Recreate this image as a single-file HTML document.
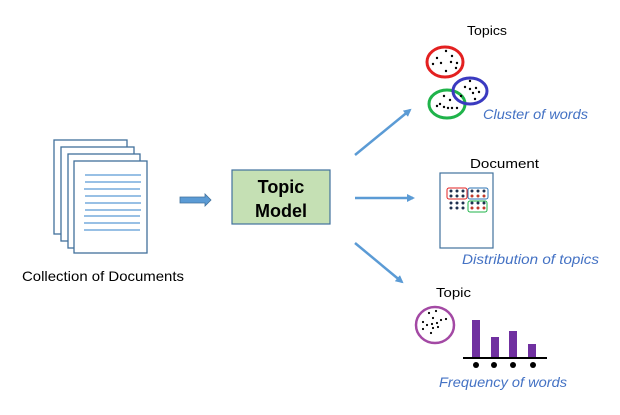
<!DOCTYPE html>
<html><head><style>
body{margin:0;background:#fff;}
svg{display:block;font-family:"Liberation Sans",Arial,sans-serif;}
</style></head><body>
<svg width="620" height="415" viewBox="0 0 620 415">
<defs>
<marker id="ah" markerWidth="8" markerHeight="8" refX="6" refY="4" orient="auto" markerUnits="userSpaceOnUse"><path d="M0,0 L8,4 L0,8 z" fill="#5b9bd5"/></marker>
</defs>
<g fill="#fff" stroke="#41719c" stroke-width="1.3">
<rect x="54" y="140" width="73" height="94"/>
<rect x="61" y="147" width="73" height="94"/>
<rect x="68" y="154" width="72" height="94"/>
<rect x="74" y="161" width="73" height="92"/>
</g>
<g stroke="#5b9bd5" stroke-width="1.2">
<line x1="85" y1="175" x2="141" y2="175"/><line x1="85" y1="182" x2="141" y2="182"/>
<line x1="84" y1="189" x2="140" y2="189"/><line x1="85" y1="196" x2="141" y2="196"/>
<line x1="85" y1="203" x2="141" y2="203"/><line x1="85" y1="210" x2="141" y2="210"/>
<line x1="84" y1="216" x2="140" y2="216"/><line x1="84" y1="223" x2="140" y2="223"/>
<line x1="84" y1="230" x2="140" y2="230"/>
</g>
<text x="22" y="281" font-size="14" textLength="162" lengthAdjust="spacingAndGlyphs" fill="#000">Collection of Documents</text>
<path d="M180,197 L205,197 L205,194 L211,200 L205,206 L205,203 L180,203 z" fill="#5b9bd5" stroke="#41719c" stroke-width="0.8"/>
<rect x="232" y="170" width="98" height="54" fill="#c5e0b4" stroke="#41719c" stroke-width="1.2"/>
<text x="281" y="193" font-size="18" font-weight="bold" text-anchor="middle">Topic</text>
<text x="281" y="217" font-size="18" font-weight="bold" text-anchor="middle">Model</text>
<g stroke="#5b9bd5" stroke-width="2.5" marker-end="url(#ah)">
<line x1="355" y1="155" x2="410" y2="110"/>
<line x1="355" y1="198" x2="413" y2="198"/>
<line x1="355" y1="243" x2="402" y2="282"/>
</g>
<text x="467" y="35" font-size="13" textLength="40" lengthAdjust="spacingAndGlyphs">Topics</text>
<ellipse cx="445" cy="62" rx="18" ry="15" fill="none" stroke="#e32020" stroke-width="3"/>
<ellipse cx="447" cy="104" rx="18" ry="14" fill="none" stroke="#1fb34a" stroke-width="3"/>
<ellipse cx="470" cy="91" rx="17" ry="13" fill="none" stroke="#3a3ac0" stroke-width="3"/>
<g fill="#000">
<circle cx="446" cy="51" r="1.2"/><circle cx="437" cy="58" r="1.2"/><circle cx="452" cy="56" r="1.2"/><circle cx="433" cy="64" r="1.2"/><circle cx="441" cy="63" r="1.2"/><circle cx="451" cy="62" r="1.2"/><circle cx="457" cy="63" r="1.2"/><circle cx="446" cy="71" r="1.2"/><circle cx="456" cy="68" r="1.2"/>
<circle cx="470" cy="81" r="1.2"/><circle cx="465" cy="87" r="1.2"/><circle cx="470" cy="89" r="1.2"/><circle cx="476" cy="88" r="1.2"/><circle cx="473" cy="93" r="1.2"/><circle cx="479" cy="92" r="1.2"/><circle cx="461" cy="96" r="1.2"/><circle cx="475" cy="99" r="1.2"/>
<circle cx="444" cy="96" r="1.2"/><circle cx="450" cy="100" r="1.2"/><circle cx="440" cy="104" r="1.2"/><circle cx="444" cy="107" r="1.2"/><circle cx="448" cy="108" r="1.2"/><circle cx="452" cy="108" r="1.2"/><circle cx="437" cy="106" r="1.2"/><circle cx="457" cy="108" r="1.2"/>
</g>
<text x="483" y="119" font-size="14" font-style="italic" fill="#4472c4" textLength="105" lengthAdjust="spacingAndGlyphs">Cluster of words</text>
<text x="470" y="168" font-size="13" textLength="69" lengthAdjust="spacingAndGlyphs">Document</text>
<rect x="440" y="173" width="53" height="75" fill="#fff" stroke="#41719c" stroke-width="1.2"/>
<rect x="447" y="188" width="20" height="11" rx="2" fill="none" stroke="#e32020" stroke-width="1"/>
<rect x="468" y="188" width="20" height="11" rx="2" fill="none" stroke="#2e75b6" stroke-width="1"/>
<rect x="468" y="201" width="19" height="11" rx="2" fill="none" stroke="#1fb34a" stroke-width="1"/>
<g fill="#1f3050">
<circle cx="451" cy="191" r="1.5"/><circle cx="457" cy="191" r="1.5"/><circle cx="463" cy="191" r="1.5"/>
<circle cx="451" cy="196" r="1.5"/><circle cx="457" cy="196" r="1.5"/><circle cx="463" cy="196" r="1.5"/>
<circle cx="472" cy="191" r="1.5"/><circle cx="478" cy="191" r="1.5"/><circle cx="484" cy="191" r="1.5"/>
<circle cx="451" cy="203" r="1.5"/><circle cx="457" cy="203" r="1.5"/><circle cx="463" cy="203" r="1.5"/>
<circle cx="451" cy="208" r="1.5"/><circle cx="457" cy="208" r="1.5"/><circle cx="463" cy="208" r="1.5"/>
<circle cx="472" cy="203" r="1.5"/><circle cx="478" cy="203" r="1.5"/><circle cx="484" cy="203" r="1.5"/>
</g>
<g fill="#c0392b">
<circle cx="472" cy="196" r="1.5"/><circle cx="478" cy="196" r="1.5"/><circle cx="484" cy="196" r="1.5"/>
<circle cx="472" cy="208" r="1.5"/><circle cx="478" cy="208" r="1.5"/><circle cx="484" cy="208" r="1.5"/>
</g>
<text x="462" y="264" font-size="14" font-style="italic" fill="#4472c4" textLength="137" lengthAdjust="spacingAndGlyphs">Distribution of topics</text>
<text x="436" y="297" font-size="13" textLength="35" lengthAdjust="spacingAndGlyphs">Topic</text>
<ellipse cx="435" cy="325" rx="19" ry="18" fill="none" stroke="#a349a4" stroke-width="2.5"/>
<g fill="#000">
<circle cx="429" cy="313" r="1.1"/><circle cx="436" cy="311" r="1.1"/><circle cx="433" cy="318" r="1.1"/><circle cx="441" cy="320" r="1.1"/><circle cx="446" cy="319" r="1.1"/><circle cx="423" cy="322" r="1.1"/><circle cx="427" cy="325" r="1.1"/><circle cx="432" cy="324" r="1.1"/><circle cx="437" cy="323" r="1.1"/><circle cx="438" cy="327" r="1.1"/><circle cx="433" cy="328" r="1.1"/><circle cx="423" cy="329" r="1.1"/><circle cx="431" cy="333" r="1.1"/>
</g>
<g fill="#7030a0">
<rect x="472" y="320" width="8" height="37"/>
<rect x="491" y="337" width="8" height="20"/>
<rect x="509" y="331" width="8" height="26"/>
<rect x="528" y="344" width="8" height="13"/>
</g>
<line x1="463" y1="358" x2="547" y2="358" stroke="#000" stroke-width="2"/>
<g fill="#000">
<circle cx="476" cy="365" r="3"/><circle cx="494" cy="365" r="3"/><circle cx="513" cy="365" r="3"/><circle cx="533" cy="365" r="3"/>
</g>
<text x="439" y="387" font-size="14" font-style="italic" fill="#4472c4" textLength="128" lengthAdjust="spacingAndGlyphs">Frequency of words</text>
</svg>
</body></html>
